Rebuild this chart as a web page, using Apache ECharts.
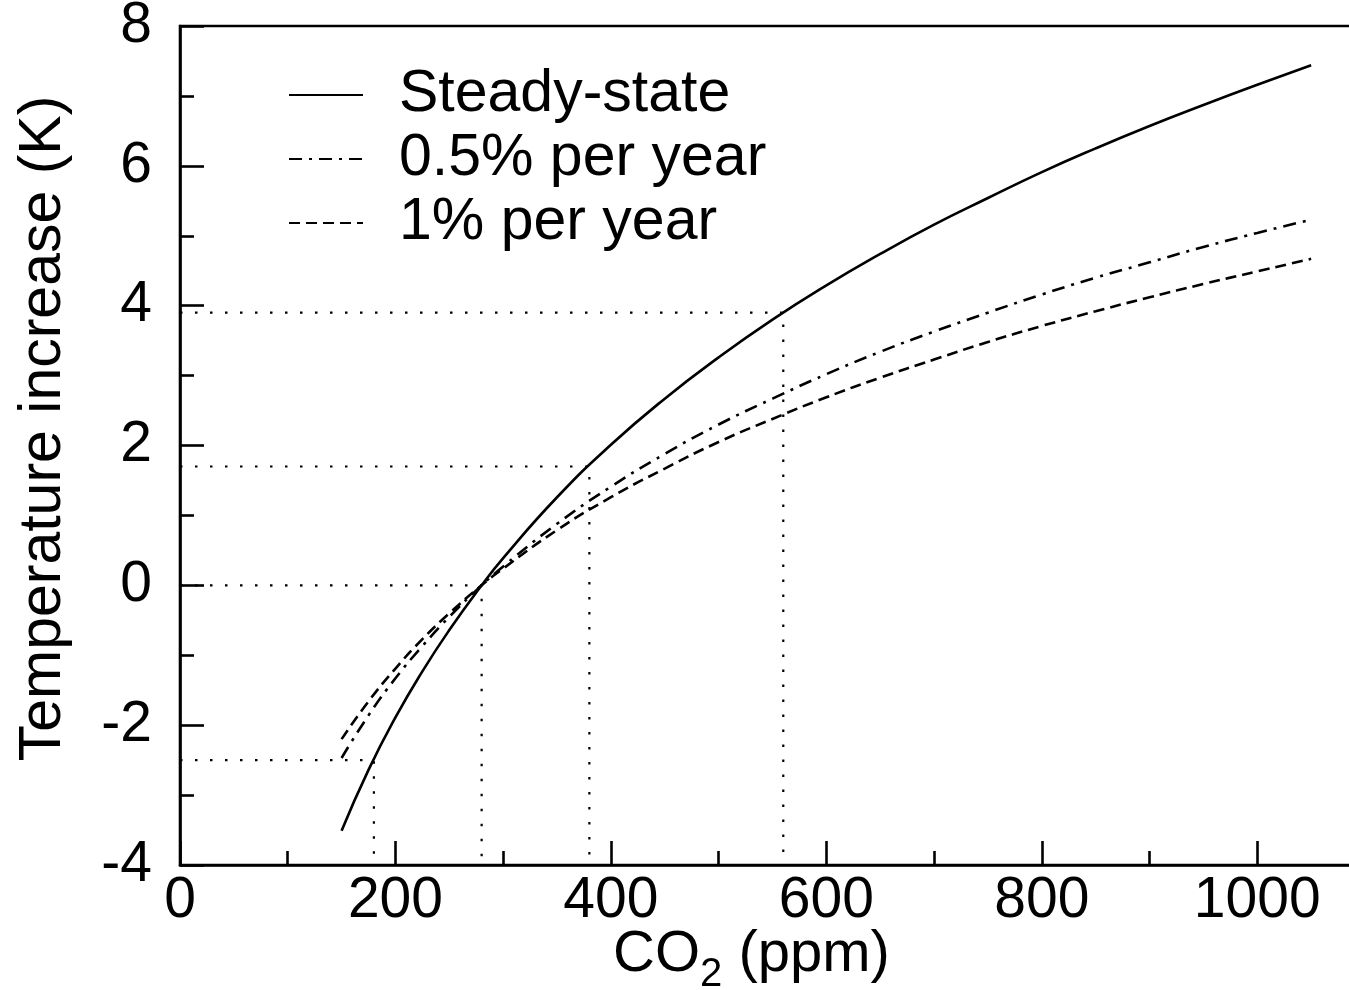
<!DOCTYPE html>
<html>
<head>
<meta charset="utf-8">
<script src="https://cdn.jsdelivr.net/npm/echarts@6/dist/echarts.min.js"></script>
<style>
html, body { margin: 0; padding: 0; background: #fff; }
#chart { width: 1349px; height: 990px; }
</style>
</head>
<body>
<div id="chart"></div>
<script>
// CO2 concentration (ppm) sampled along the curves
const co2 = [150, 175, 200, 225, 250, 280, 300, 350, 400, 450, 500, 550, 600, 650, 700, 750, 800, 850, 900, 950, 1000, 1050];
// temperature increase (K)
const steadyState = [-3.51, -2.64, -1.89, -1.23, -0.64, 0, 0.39, 1.26, 2.01, 2.67, 3.26, 3.80, 4.29, 4.74, 5.16, 5.54, 5.91, 6.25, 6.57, 6.87, 7.16, 7.44];
const halfPercent = [-2.47, -1.86, -1.33, -0.87, -0.45, 0, 0.27, 0.88, 1.41, 1.88, 2.30, 2.67, 3.02, 3.34, 3.63, 3.90, 4.16, 4.40, 4.62, 4.84, 5.04, 5.23];
const onePercent = [-2.20, -1.66, -1.19, -0.77, -0.40, 0, 0.24, 0.79, 1.26, 1.67, 2.05, 2.38, 2.69, 2.97, 3.23, 3.48, 3.71, 3.92, 4.12, 4.31, 4.49, 4.67];
// dotted guide lines
const refCo2 = [180, 280, 380, 560];
const refTemp = [-2.5, 0, 1.7, 3.9];
const legendNames = ['Steady-state', '0.5% per year', '1% per year'];

const FONT = 'Liberation Sans';
const chart = echarts.init(document.getElementById('chart'), null, { renderer: 'canvas' });

function curve(name, ys, dash) {
    return {
        name: name,
        type: 'line',
        data: co2.map((c, i) => [c, ys[i]]),
        smooth: true,
        symbol: 'none',
        itemStyle: { color: '#000' },
        lineStyle: { color: '#000', width: 2.6, type: dash, cap: 'butt' },
        emphasis: { disabled: true },
        z: 3
    };
}

let series = [
    curve(legendNames[0], steadyState, 'solid'),
    curve(legendNames[1], halfPercent, [13, 7, 3, 7]),
    curve(legendNames[2], onePercent, [11, 6])
];

// horizontal from the axis to the curve, then down to the x axis
refCo2.forEach((c, i) => {
    series.push({
        name: 'ref' + i,
        type: 'line',
        data: [[0, refTemp[i]], [c, refTemp[i]], [c, -4]],
        symbol: 'none',
        lineStyle: { color: '#000', width: 2.2, type: [2.5, 12.5] },
        emphasis: { disabled: true },
        z: 2
    });
});

const tickLine = { color: '#000', width: 2.6 };

let option = {
    animation: false,
    backgroundColor: '#fff',
    textStyle: { fontFamily: FONT, color: '#000' },
    grid: {
        left: 180,
        right: -16,
        top: 26,
        bottom: 125,
        outerBoundsMode: 'none',
        containLabel: false,
        show: true,
        borderColor: '#000',
        borderWidth: 2.6,
        backgroundColor: 'transparent'
    },
    legend: {
        data: legendNames,
        orient: 'vertical',
        left: 283,
        top: 58,
        itemWidth: 74,
        itemHeight: 20,
        itemGap: 0,
        selectedMode: false,
        itemStyle: { opacity: 0 },
        textStyle: { fontFamily: FONT, fontSize: 59, lineHeight: 48, color: '#000', padding: [0, 0, 16, 31] }
    },
    xAxis: {
        type: 'value',
        min: 0,
        max: 1100,
        interval: 200,
        name: 'CO{sub|2} (ppm)',
        nameLocation: 'middle',
        nameGap: 50,
        nameMoveOverlap: false,
        nameTextStyle: {
            fontFamily: FONT,
            fontSize: 58,
            color: '#000',
            padding: [0, 42, 0, 0],
            rich: {
                sub: { fontFamily: FONT, fontSize: 40, color: '#000', padding: [40, 0, 0, 0] }
            }
        },
        axisLine: { show: true, onZero: false, lineStyle: tickLine },
        axisTick: { show: true, inside: true, length: 24, lineStyle: tickLine },
        minorTick: { show: true, splitNumber: 2, length: 14, lineStyle: tickLine },
        axisLabel: {
            fontFamily: FONT,
            fontSize: 57,
            color: '#000',
            margin: 8,
            showMaxLabel: false,
            formatter: v => (v <= 1000 ? String(v) : '')
        },
        splitLine: { show: false }
    },
    yAxis: {
        type: 'value',
        min: -4,
        max: 8,
        interval: 2,
        name: 'Temperature increase (K)',
        nameLocation: 'middle',
        nameGap: 107,
        nameMoveOverlap: false,
        nameTextStyle: { fontFamily: FONT, fontSize: 59, color: '#000', padding: [0, 0, 0, 34] },
        axisLine: { show: true, onZero: false, lineStyle: tickLine },
        axisTick: { show: true, inside: true, length: 24, lineStyle: tickLine },
        minorTick: { show: true, splitNumber: 2, length: 14, lineStyle: tickLine },
        axisLabel: { fontFamily: FONT, fontSize: 57, color: '#000', margin: 28 },
        splitLine: { show: false }
    },
    series: series
};

chart.setOption(option);
</script>
</body>
</html>
